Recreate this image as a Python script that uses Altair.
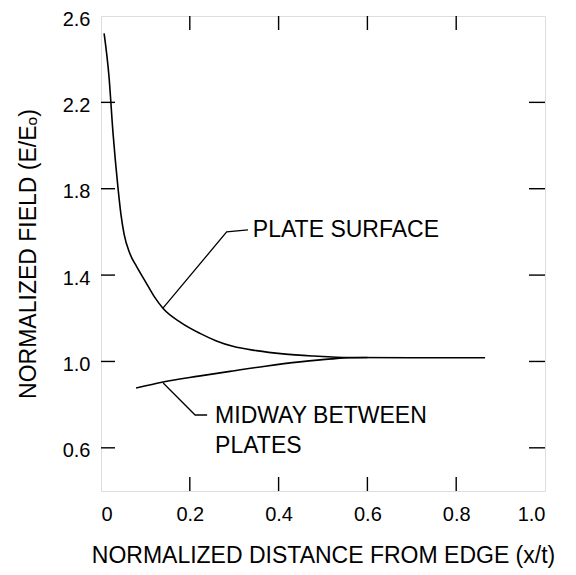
import altair as alt
import pandas as pd

# ---- data ----
plate_x = [0.007, 0.018, 0.027, 0.038, 0.045, 0.052, 0.065, 0.08, 0.10, 0.12, 0.14, 0.18,
           0.223, 0.26, 0.297, 0.35, 0.41, 0.48, 0.56, 0.70, 0.865]
plate_y = [2.52, 2.32, 2.06, 1.81, 1.68, 1.59, 1.50, 1.44, 1.37, 1.30, 1.245, 1.18,
           1.13, 1.095, 1.07, 1.05, 1.035, 1.025, 1.018, 1.017, 1.017]

mid_x = [0.079, 0.14, 0.22, 0.297, 0.37, 0.448, 0.52, 0.56, 0.60]
mid_y = [0.877, 0.905, 0.932, 0.956, 0.978, 0.998, 1.012, 1.017, 1.018]

x_ticks = [0.2, 0.4, 0.6, 0.8]
y_ticks = [2.2, 1.8, 1.4, 1.0, 0.6]
x_labels = [0, 0.2, 0.4, 0.6, 0.8, 1.0]
y_labels = [0.6, 1.0, 1.4, 1.8, 2.2, 2.6]

# annotation leaders (data coordinates)
leader_group = ["plate", "plate", "plate", "mid", "mid", "mid"]
leader_x = [0.140, 0.283, 0.331, 0.140, 0.212, 0.239]
leader_y = [1.248, 1.600, 1.609, 0.900, 0.752, 0.752]

note_text = ["PLATE SURFACE", "MIDWAY BETWEEN", "PLATES"]
note_x = [0.342, 0.257, 0.257]
note_y = [1.609, 0.747, 0.608]

FONT = "Liberation Sans"
W, H = 444, 475

curves = pd.DataFrame(
    {"x": plate_x + mid_x, "y": plate_y + mid_y,
     "series": ["plate"] * len(plate_x) + ["mid"] * len(mid_x)}
)
leaders = pd.DataFrame({"g": leader_group, "x": leader_x, "y": leader_y})
notes = pd.DataFrame({"t": note_text, "x": note_x, "y": note_y})
xt = pd.DataFrame({"v": x_ticks})
yt = pd.DataFrame({"v": y_ticks})

xscale = alt.Scale(domain=[0, 1.0], nice=False, zero=False)
yscale = alt.Scale(domain=[0.4, 2.6], nice=False, zero=False)

xaxis = alt.Axis(
    values=x_labels, grid=False, domain=False, ticks=False,
    labelExpr="datum.value == 0 ? '0' : format(datum.value, '.1f')",
    labelFont=FONT, labelFontSize=20, labelColor="black", labelPadding=13,
    title="NORMALIZED DISTANCE FROM EDGE (x/t)", titleFont=FONT, titleFontSize=23,
    titleFontWeight="normal", titleColor="black", titlePadding=20,
)
yaxis = alt.Axis(
    values=y_labels, grid=False, domain=False, ticks=False, format=".1f",
    labelFont=FONT, labelFontSize=20, labelColor="black", labelPadding=11,
    labelOffset=3,
    title="NORMALIZED FIELD (E/Eₒ)", titleFont=FONT, titleFontSize=23,
    titleFontWeight="normal", titleColor="black", titlePadding=22,
)

lines = alt.Chart(curves).mark_line(
    color="black", strokeWidth=1.6, interpolate="monotone"
).encode(
    x=alt.X("x:Q", scale=xscale, axis=xaxis),
    y=alt.Y("y:Q", scale=yscale, axis=yaxis),
    detail="series:N",
)

lead = alt.Chart(leaders).mark_line(color="black", strokeWidth=1.3).encode(
    x=alt.X("x:Q", scale=xscale), y=alt.Y("y:Q", scale=yscale), detail="g:N",
    order=alt.Order("x:Q"),
)

text = alt.Chart(notes).mark_text(
    align="left", baseline="middle", font=FONT, fontSize=23, color="black"
).encode(x=alt.X("x:Q", scale=xscale), y=alt.Y("y:Q", scale=yscale), text="t:N")

tick_style = dict(color="black", strokeWidth=1.4)
bottom_ticks = alt.Chart(xt).mark_rule(**tick_style).encode(
    x=alt.X("v:Q", scale=xscale), y=alt.value(H), y2=alt.value(H - 14))
top_ticks = alt.Chart(xt).mark_rule(**tick_style).encode(
    x=alt.X("v:Q", scale=xscale), y=alt.value(0), y2=alt.value(14))
left_ticks = alt.Chart(yt).mark_rule(**tick_style).encode(
    y=alt.Y("v:Q", scale=yscale), x=alt.value(0), x2=alt.value(14))
right_ticks = alt.Chart(yt).mark_rule(**tick_style).encode(
    y=alt.Y("v:Q", scale=yscale), x=alt.value(W), x2=alt.value(W - 16))

chart = alt.layer(
    lines, lead, text, bottom_ticks, top_ticks, left_ticks, right_ticks
).properties(
    width=W, height=H,
    autosize=alt.AutoSizeParams(type="none"),
    padding={"left": 93, "top": 8, "right": 20, "bottom": 86},
).configure_view(
    stroke="black", strokeWidth=1.6
).configure(background="white")

chart.save("out.html", embed_options={"renderer": "svg", "actions": False})
